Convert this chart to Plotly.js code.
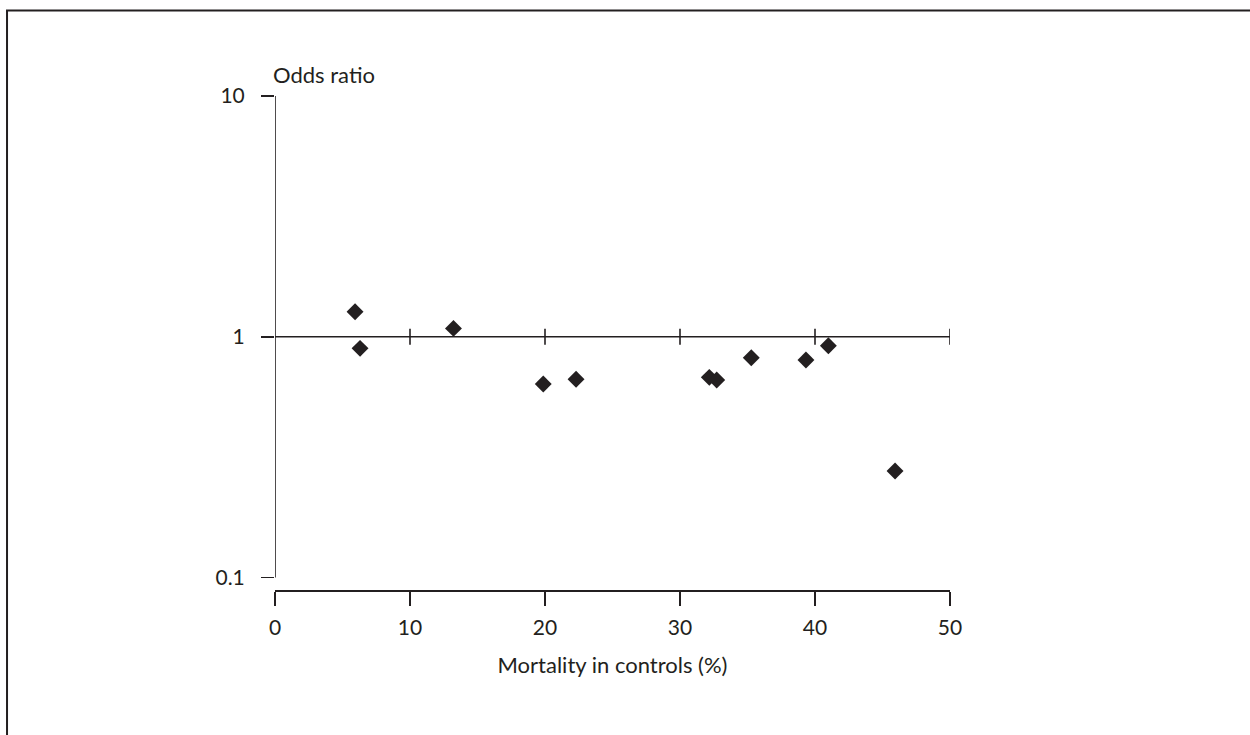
<!DOCTYPE html>
<html>
<head>
<meta charset="utf-8">
<script src="https://cdn.plot.ly/plotly-3.0.1.min.js"></script>
<style>html,body{margin:0;padding:0;background:#fff;}#chart{width:1250px;height:735px;}</style>
</head>
<body>
<div id="chart"></div>
<script>
// Data
const mortality = [5.93, 6.30, 13.22, 19.87, 22.30, 32.17, 32.72, 35.28, 39.33, 40.99, 45.93];
const oddsRatio = [1.27, 0.895, 1.083, 0.636, 0.666, 0.678, 0.661, 0.818, 0.80, 0.918, 0.277];
const xTicks = [0, 10, 20, 30, 40, 50];
const yTicks = [0.1, 1, 10];
const yTickText = ['0.1', '1', '10'];

const ink = '#231f20';
const fontFam = 'Lato, "Open Sans", sans-serif';

const shapes = [];
// outer frame
shapes.push({type:'rect', xref:'paper', yref:'paper', x0:-0.397, x1:1.46, y0:-0.32, y1:1.173,
  line:{color:ink, width:2}, fillcolor:'rgba(0,0,0,0)', layer:'below'});
// y axis line from 0.1 to 10
shapes.push({type:'line', xref:'x', yref:'y', x0:0, x1:0, y0:yTicks[0], y1:yTicks[2],
  line:{color:ink, width:1.6}});
// reference line at odds ratio 1
shapes.push({type:'line', xref:'x', yref:'y', x0:-1.2, x1:xTicks[xTicks.length-1], y0:yTicks[1], y1:yTicks[1],
  line:{color:ink, width:1.6}});
// crossing ticks on the reference line
xTicks.slice(1).forEach(function(v){
  shapes.push({type:'line', xref:'x', yref:'y', x0:v, x1:v, y0:Math.pow(10,-0.033), y1:Math.pow(10,0.033),
    line:{color:ink, width:1.6}});
});

const trace = {
  x: mortality, y: oddsRatio, type:'scatter', mode:'markers',
  marker:{symbol:'diamond', size:13, color:ink, line:{width:0}},
  hoverinfo:'x+y', showlegend:false, cliponaxis:false
};

const layout = {
  width:1250, height:735,
  margin:{l:275, r:300, t:96, b:145, pad:0},
  paper_bgcolor:'#fff', plot_bgcolor:'rgba(0,0,0,0)',
  font:{family:fontFam, size:21, color:ink},
  showlegend:false,
  xaxis:{range:[0,50], tickvals:xTicks, ticktext:xTicks.map(String), ticks:'outside', ticklen:14,
    tickwidth:1.6, tickcolor:ink, showline:true, linecolor:ink, linewidth:1.6, showgrid:false, zeroline:false,
    ticklabelstandoff:4, tickfont:{size:21, family:fontFam, color:ink},
    title:{text:'Mortality in controls (%)', font:{size:22, family:fontFam, color:ink}, standoff:20},
    fixedrange:true},
  yaxis:{type:'log', range:[-1.052, 1], tickvals:yTicks, ticktext:yTickText, ticks:'outside', ticklen:13,
    tickwidth:1.6, tickcolor:ink, showline:false, showgrid:false, zeroline:false,
    ticklabelstandoff:12, tickfont:{size:21, family:fontFam, color:ink}, fixedrange:true},
  shapes: shapes,
  annotations:[{text:'Odds ratio', xref:'paper', yref:'paper', x:0, y:1, xanchor:'left', yanchor:'bottom',
    xshift:-4, yshift:6, showarrow:false, font:{size:22, family:fontFam, color:ink}}]
};

Plotly.newPlot('chart', [trace], layout, {displayModeBar:false, staticPlot:true});
</script>
</body>
</html>
